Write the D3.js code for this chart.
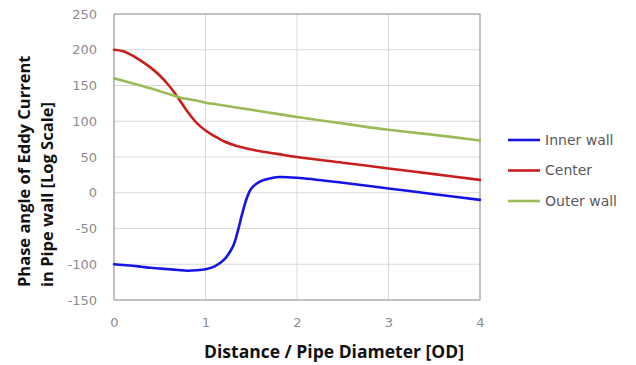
<!DOCTYPE html>
<html>
<head>
<meta charset="utf-8">
<script src="https://cdn.jsdelivr.net/npm/d3@7"></script>
<style>
  html, body { margin: 0; padding: 0; background: #fff; }
  svg { display: block; }
</style>
</head>
<body>
<svg id="chart" width="636" height="365"></svg>
<script>
// Distance along the pipe, in pipe diameters
const distance = [0, 0.1, 0.2, 0.3, 0.4, 0.5, 0.6, 0.7, 0.8, 0.9, 1.0, 1.1, 1.2, 1.3, 1.35, 1.4, 1.45, 1.5, 1.6, 1.7, 1.8, 2.0, 2.5, 3.0, 3.5, 4.0];

// Phase angle at each position for the three radial locations
const innerWall = [-100, -101, -102, -103.5, -105, -106, -107, -108, -109, -108.5, -107, -103, -94, -75, -55, -30, -8, 6, 16, 20, 22, 21, 14, 6, -2, -10];
const center    = [200, 198, 192, 184, 175, 164, 150, 133, 114, 98, 87, 79, 72, 67, 65, 63.5, 62, 60.5, 58, 56, 54, 50, 42, 34, 26, 18];
const outerWall = [160, 156.5, 153, 149.5, 146, 142, 138, 134, 131, 129, 126, 124, 122, 120, 119, 118, 117, 116, 114, 112, 110, 106, 97, 88, 81, 73];

const seriesNames  = ["Inner wall", "Center", "Outer wall"];
const seriesColors = ["#1414e6", "#c81e1e", "#9bbb59"];
const seriesValues = [innerWall, center, outerWall];

const xTicks = [0, 1, 2, 3, 4];
const yTicks = [-150, -100, -50, 0, 50, 100, 150, 200, 250];

const svg = d3.select("#chart");
const plot = { left: 114, right: 480, top: 14, bottom: 300 };

const x = d3.scaleLinear().domain([0, 4]).range([plot.left, plot.right]);
const y = d3.scaleLinear().domain([-150, 250]).range([plot.bottom, plot.top]);

// Gridlines
const grid = svg.append("g");
grid.selectAll("line.h").data(yTicks).join("line")
  .attr("x1", plot.left).attr("x2", plot.right)
  .attr("y1", d => y(d)).attr("y2", d => y(d))
  .attr("stroke", "#d9d9d9").attr("stroke-width", 1);
grid.selectAll("line.v").data(xTicks).join("line")
  .attr("y1", plot.top).attr("y2", plot.bottom)
  .attr("x1", d => x(d)).attr("x2", d => x(d))
  .attr("stroke", "#d9d9d9").attr("stroke-width", 1);

// Plot frame
svg.append("rect")
  .attr("x", plot.left).attr("y", plot.top)
  .attr("width", plot.right - plot.left).attr("height", plot.bottom - plot.top)
  .attr("fill", "none").attr("stroke", "#a6a6a6").attr("stroke-width", 1.2);

// Axes (labels only, lines handled by the frame); plain hyphen for negatives
const yAxis = d3.axisLeft(y).tickValues(yTicks).tickSize(0).tickPadding(17).tickFormat(d => String(d));
const xAxis = d3.axisBottom(x).tickValues(xTicks).tickSize(0).tickPadding(18).tickFormat(d => String(d));

const gy = svg.append("g").attr("transform", `translate(${plot.left},0)`).call(yAxis);
const gx = svg.append("g").attr("transform", `translate(0,${plot.bottom})`).call(xAxis);
[gx, gy].forEach(g => {
  g.select(".domain").remove();
  g.selectAll("text")
    .attr("font-family", "DejaVu Sans, Verdana, sans-serif")
    .attr("font-size", 13)
    .attr("fill", "#8c8c8c");
});

// Series lines
const line = d3.line()
  .x((d, i) => x(distance[i]))
  .y(d => y(d))
  .curve(d3.curveCatmullRom.alpha(0.5));

svg.append("g").selectAll("path").data(seriesValues).join("path")
  .attr("d", d => line(d))
  .attr("fill", "none")
  .attr("stroke", (d, i) => seriesColors[i])
  .attr("stroke-width", 2.6)
  .attr("stroke-linejoin", "round")
  .attr("stroke-linecap", "round");

// Axis titles
svg.append("text")
  .attr("x", 334).attr("y", 358)
  .attr("text-anchor", "middle")
  .attr("font-family", "Open Sans, sans-serif")
  .attr("font-weight", "bold")
  .attr("font-size", 17.5)
  .attr("fill", "#111")
  .text("Distance / Pipe Diameter [OD]");

const yTitle = svg.append("text")
  .attr("transform", "translate(0,287) rotate(-90)")
  .attr("font-family", "Open Sans, sans-serif")
  .attr("font-weight", "bold")
  .attr("font-size", 16.5)
  .attr("fill", "#111");
yTitle.append("tspan").attr("x", 0).attr("y", 30).text("Phase angle of Eddy Current");
yTitle.append("tspan").attr("x", 0).attr("y", 53).text("in Pipe wall [Log Scale]");

// Legend
const legend = svg.append("g").attr("transform", "translate(508,140)");
const items = legend.selectAll("g").data(seriesNames).join("g")
  .attr("transform", (d, i) => `translate(0,${i * 30.5})`);
items.append("line")
  .attr("x1", 0).attr("x2", 32).attr("y1", 0).attr("y2", 0)
  .attr("stroke", (d, i) => seriesColors[i]).attr("stroke-width", 2.6);
items.append("text")
  .attr("x", 37).attr("y", 0).attr("dy", "0.35em")
  .attr("font-family", "DejaVu Sans, Verdana, sans-serif")
  .attr("font-size", 14)
  .attr("fill", "#595959")
  .text(d => d);
</script>
</body>
</html>
